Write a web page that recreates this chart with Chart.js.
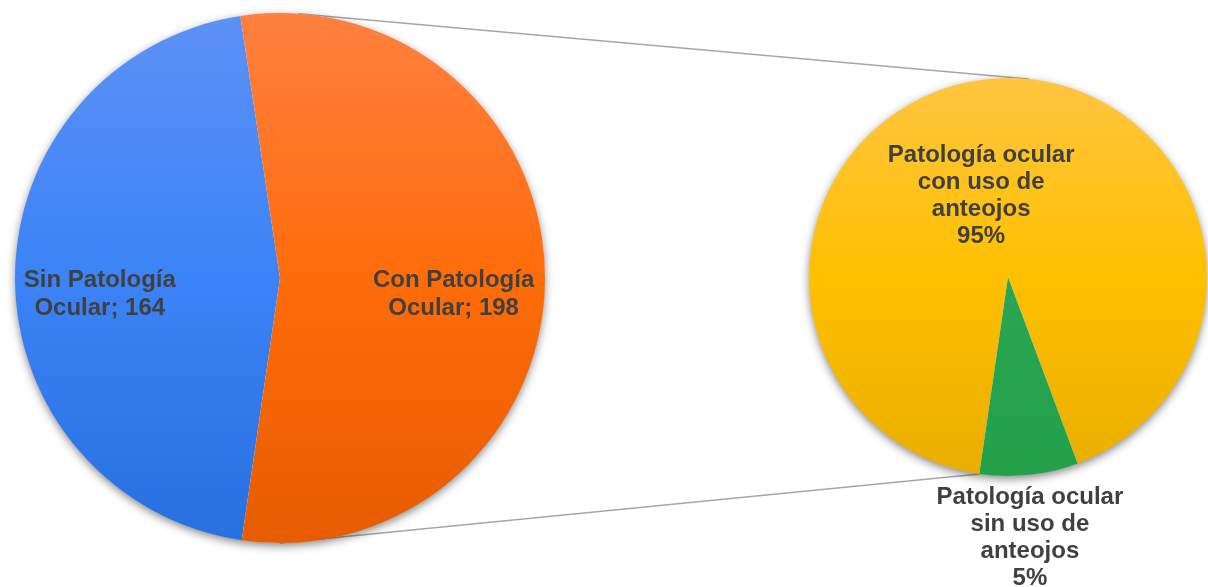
<!DOCTYPE html>
<html>
<head>
<meta charset="utf-8">
<script src="https://cdn.jsdelivr.net/npm/chart.js@4.4.1/dist/chart.umd.min.js"></script>
<style>
  html, body { margin: 0; padding: 0; background: #fff; }
  #wrap { position: relative; width: 1208px; height: 587px; overflow: hidden; }
  canvas { position: absolute; top: 0; }
  #lines { left: 0; z-index: 0; }
  #mainPie { left: 0; z-index: 1; }
  #subPie { left: 760px; z-index: 1; }
</style>
</head>
<body>
<div id="wrap">
  <canvas id="lines" width="1208" height="587"></canvas>
  <canvas id="mainPie"></canvas>
  <canvas id="subPie"></canvas>
</div>
<script>
// data
const mainCategories = ['Sin Patología Ocular', 'Con Patología Ocular'];
const mainValues = [164, 198];
const subCategories = ['Patología ocular con uso de anteojos', 'Patología ocular sin uso de anteojos'];
const subValues = [92, 8];
const subPercentLabels = ['95%', '5%'];

// colours: top / mid / bottom of the vertical gradient
const mainColors = [['#5d91f7', '#3b83f6', '#2870e0'], ['#ff8040', '#ff6c0a', '#e65c00']];
const subColors = [['#ffc540', '#ffc000', '#e8ae00'], ['#4cb875', '#2ba653', '#22a04a']];

const FONT = 'bold 24px "Liberation Sans", Arial, sans-serif';
const TEXT_COLOR = '#404040';

function gradientFill(colors) {
  return (ctx) => {
    const area = ctx.chart.chartArea;
    const c = colors[ctx.dataIndex];
    if (!area) return c[1];
    const g = ctx.chart.ctx.createLinearGradient(0, area.top, 0, area.bottom);
    g.addColorStop(0, c[0]);
    g.addColorStop(0.5, c[1]);
    g.addColorStop(1, c[2]);
    return g;
  };
}

function wrap(ctx, text, maxW) {
  const words = text.split(' ');
  const out = [];
  let cur = '';
  words.forEach(w => {
    const test = cur ? cur + ' ' + w : w;
    if (cur && ctx.measureText(test).width > maxW) { out.push(cur); cur = w; }
    else cur = test;
  });
  if (cur) out.push(cur);
  return out;
}

// soft shadow under the whole pie
const pieShadow = {
  id: 'pieShadow',
  beforeDatasetsDraw(chart) {
    const arc = chart.getDatasetMeta(0).data[0];
    if (!arc) return;
    const ctx = chart.ctx;
    ctx.save();
    ctx.shadowColor = 'rgba(0,0,0,0.5)';
    ctx.shadowBlur = 10;
    ctx.shadowOffsetY = 3;
    ctx.fillStyle = '#fff';
    ctx.beginPath();
    ctx.arc(arc.x, arc.y, arc.outerRadius - 0.5, 0, Math.PI * 2);
    ctx.fill();
    ctx.restore();
  }
};

// text labels, placed relative to pie centre in radius units
const sliceLabels = {
  id: 'sliceLabels',
  afterDatasetsDraw(chart, args, opts) {
    const meta = chart.getDatasetMeta(0);
    const ctx = chart.ctx;
    ctx.save();
    ctx.font = FONT;
    ctx.fillStyle = TEXT_COLOR;
    ctx.textAlign = 'center';
    ctx.textBaseline = 'middle';
    meta.data.forEach((arc, i) => {
      const lines = opts.lines(ctx, i);
      const pos = opts.pos[i];
      const cx = arc.x + pos[0] * arc.outerRadius;
      const cy = arc.y + pos[1] * arc.outerRadius;
      const top = cy - (lines.length - 1) * opts.lineHeight / 2;
      lines.forEach((l, k) => ctx.fillText(l, cx, top + k * opts.lineHeight));
    });
    ctx.restore();
  }
};

function pieOptions(rotation, padding, labelOpts) {
  return {
    responsive: false,
    animation: false,
    rotation,
    layout: { padding },
    plugins: { legend: { display: false }, tooltip: { enabled: false }, sliceLabels: labelOpts }
  };
}

const mainCanvas = document.getElementById('mainPie');
mainCanvas.width = 560; mainCanvas.height = 587;
const mainChart = new Chart(mainCanvas, {
  type: 'pie',
  data: {
    labels: mainCategories,
    datasets: [{ data: mainValues, backgroundColor: gradientFill(mainColors), borderWidth: 0 }]
  },
  options: pieOptions(188.3, { left: 15, top: 13, right: 15, bottom: 44 }, {
    lineHeight: 28,
    pos: [[-0.68, 0.063], [0.655, 0.063]],
    lines: (ctx, i) => wrap(ctx, mainCategories[i] + '; ' + mainValues[i], 200)
  }),
  plugins: [pieShadow, sliceLabels]
});

const subCanvas = document.getElementById('subPie');
subCanvas.width = 448; subCanvas.height = 587;
const subChart = new Chart(subCanvas, {
  type: 'pie',
  data: {
    labels: subCategories,
    datasets: [{ data: subValues, backgroundColor: gradientFill(subColors), borderWidth: 0 }]
  },
  options: pieOptions(188.3, { left: 49, top: 78, right: 1, bottom: 111 }, {
    lineHeight: 27,
    pos: [[-0.135, -0.41], [0.11, 1.31]],
    lines: (ctx, i) => wrap(ctx, subCategories[i], 200).concat([subPercentLabels[i]])
  }),
  plugins: [pieShadow, sliceLabels]
});

// connector lines between the two pies
function drawConnectors() {
  const ctx = document.getElementById('lines').getContext('2d');
  const big = mainChart.getDatasetMeta(0).data[0];
  const small = subChart.getDatasetMeta(0).data;
  const offX = 760;
  const pt = (arc, ox, deg) => {
    const a = (deg - 90) * Math.PI / 180;
    return [ox + arc.x + Math.cos(a) * arc.outerRadius, arc.y + Math.sin(a) * arc.outerRadius];
  };
  const greenEnd = small[1].endAngle * 180 / Math.PI + 90;
  const segs = [
    [pt(big, 0, 4), pt(small[0], offX, 6)],
    [pt(big, 0, 180), pt(small[1], offX, greenEnd)]
  ];
  ctx.strokeStyle = '#a6a6a6';
  ctx.lineWidth = 1.5;
  segs.forEach(([a, b]) => {
    ctx.beginPath();
    ctx.moveTo(a[0], a[1]);
    ctx.lineTo(b[0], b[1]);
    ctx.stroke();
  });
}
drawConnectors();
</script>
</body>
</html>
